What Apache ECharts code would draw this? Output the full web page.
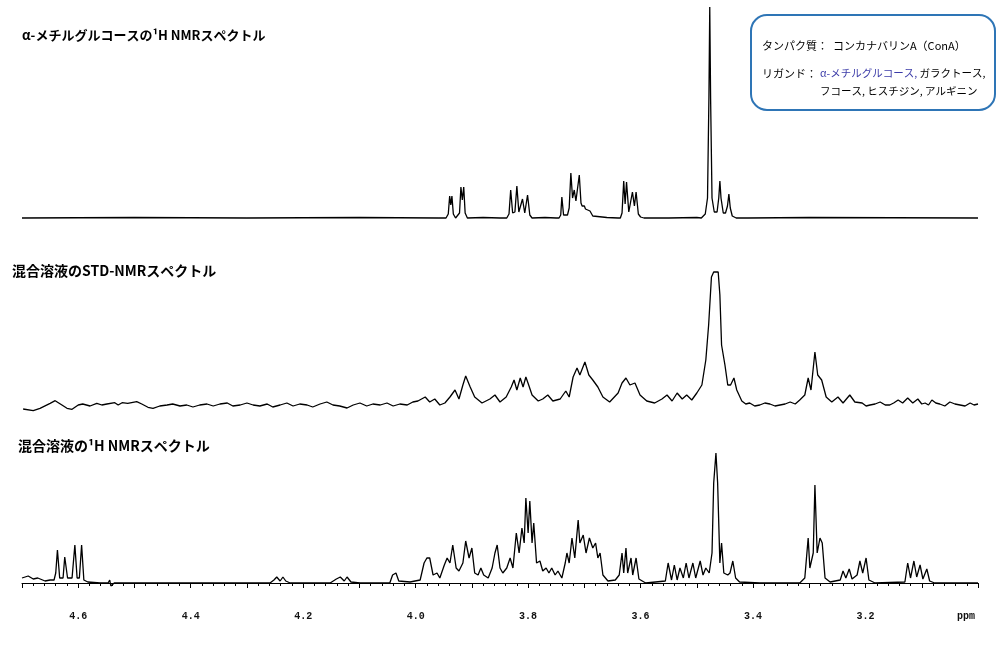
<!DOCTYPE html>
<html><head><meta charset="utf-8">
<script src="https://cdn.jsdelivr.net/npm/echarts@6/dist/echarts.min.js"></script>
<style>html,body{margin:0;padding:0;background:#fff}#c{width:1003px;height:646px}</style>
</head><body><div id="c"></div><script>
// ppm range of the shared x axis
const ppmMin = 3.0, ppmMax = 4.7;
const tickLabels = ['4.6','4.4','4.2','4.0','3.8','3.6','3.4','3.2'];
const unitLabel = 'ppm';
const spectrumTitles = ['α-メチルグルコースの¹H NMRスペクトル','混合溶液のSTD-NMRスペクトル','混合溶液の¹H NMRスペクトル'];
const proteinText = 'タンパク質：  コンカナバリンA（ConA）';
const ligandLabel = 'リガンド：';
const ligandMain = 'α-メチルグルコース,';
const ligandRest1 = ' ガラクトース,';
const ligandRest2 = 'フコース, ヒスチジン, アルギニン';

// [ppm, intensity]
const topSpectrum = [[4.70,0],[4.50,0.5],[4.30,0],[4.10,0.5],[3.96,0],
[3.946,0],[3.942,4],[3.9395,22],[3.9375,13],[3.9355,22],[3.933,4],[3.929,0],
[3.926,0],[3.922,5],[3.9195,31],[3.917,18],[3.9145,31],[3.912,5],[3.908,0],
[3.88,0.5],[3.85,0],
[3.838,0],[3.834,4],[3.831,28],[3.8275,5],[3.8235,6],[3.820,32],[3.8165,6],[3.813,6],[3.810,19],[3.806,5],[3.804,5],[3.801,23],[3.797,3],[3.793,0],
[3.77,0.5],[3.75,0],
[3.745,0],[3.742,3],[3.740,21],[3.737,3],[3.730,3],[3.727,10],[3.724,45],[3.721,20],[3.718,28],[3.715,17],[3.712,18],[3.709,43],[3.706,15],[3.704,12],[3.702,10],[3.700,12],[3.698,9],[3.696,11],[3.694,8],[3.692,10],[3.690,7],[3.688,8],[3.685,2],[3.682,0],
[3.66,0.5],[3.64,0],
[3.636,0],[3.633,5],[3.630,37],[3.6275,14],[3.625,36],[3.621,6],[3.618,6],[3.6145,26],[3.611,12],[3.608,26],[3.604,4],[3.600,1],[3.597,2],[3.594,0],
[3.55,0],[3.50,0.5],
[3.492,0],[3.485,4],[3.481,20],[3.4785,120],[3.477,211],[3.4755,120],[3.473,20],[3.469,6],[3.464,6],[3.461,20],[3.459,37],[3.457,20],[3.453,5],[3.449,5],[3.4455,12],[3.443,24],[3.4405,10],[3.437,2],[3.430,0],
[3.415,0],[3.412,2],[3.409,0],[3.30,0.5],[3.0,0]];

const stdSpectrum = [[4.698,-4],[4.680,-5.7],[4.668,-3.3],[4.650,1.7],[4.641,4.3],[4.629,0],[4.620,-3.3],[4.611,-4.3],[4.600,0],[4.592,1],[4.579,-1],[4.567,1.7],[4.558,0],[4.549,1],[4.535,2.3],[4.529,0],[4.522,2.3],[4.512,1.7],[4.496,3.3],[4.487,1],[4.476,-2.3],[4.467,-3.3],[4.455,-1],[4.442,0],
[4.432,1],[4.419,-1],[4.407,0],[4.396,-2],[4.384,0],[4.371,1],[4.360,-1],[4.348,1],[4.335,2],[4.325,-1],[4.312,0],[4.300,2],[4.289,0],[4.277,-1],[4.264,1],[4.254,-2],[4.241,0],[4.229,2],[4.218,-1],[4.206,1],[4.193,0],[4.183,-2],[4.170,1],[4.158,3],[4.147,0],[4.135,-1],[4.122,-3],[4.111,0],[4.099,2],[4.087,-1],[4.076,1],[4.063,0],[4.051,2],[4.040,-1],[4.028,1],[4.015,0],[4.005,3],
[3.996,4],[3.983,8],[3.975,3],[3.966,6],[3.957,0],[3.948,2],[3.939,8],[3.930,15],[3.923,6],[3.916,20],[3.911,29],[3.903,18],[3.895,8],[3.882,2],[3.868,6],[3.859,10],[3.850,3],[3.839,8],[3.830,18],[3.825,25],[3.820,15],[3.814,27],[3.809,18],[3.804,28],[3.799,20],[3.793,10],[3.782,4],[3.774,6],[3.765,10],[3.756,4],[3.743,6],[3.733,14],[3.727,8],[3.720,28],[3.713,37],[3.708,30],[3.699,43],[3.692,30],[3.685,25],[3.676,18],[3.667,8],[3.655,3],[3.640,12],[3.633,22],[3.626,27],[3.619,20],[3.610,22],[3.601,10],[3.589,4],[3.575,2],[3.562,6],[3.553,10],[3.544,4],[3.535,12],[3.526,6],[3.518,10],[3.509,5],[3.500,12],[3.491,20],[3.484,45],[3.479,80],[3.474,128],[3.470,133],[3.462,133],[3.459,110],[3.456,60],[3.450,40],[3.445,20],[3.440,20],[3.434,27],[3.429,15],[3.420,4],[3.413,1],[3.406,2],[3.397,-1],[3.388,0],[3.379,2],[3.370,1],[3.361,-1],[3.352,0],[3.343,1],[3.334,3],[3.325,1],[3.317,5],[3.308,10],[3.302,27],[3.297,15],[3.290,53],[3.285,30],[3.278,25],[3.270,8],[3.260,3],[3.249,8],[3.240,2],[3.228,10],[3.219,3],[3.206,2],[3.199,-1],[3.192,0],[3.183,1],[3.174,3],[3.165,0],[3.157,0],[3.150,2],[3.142,5],[3.134,2],[3.125,7],[3.116,2],[3.107,6],[3.100,1],[3.094,2],[3.088,0],[3.082,5],[3.075,2],[3.068,1],[3.059,-1],[3.050,3],[3.041,1],[3.032,0],[3.023,-1],[3.014,2],[3.007,0],[3.000,1]];

const mixSpectrum = [[4.700,5],[4.689,7],[4.680,4],[4.672,5],[4.659,2],[4.650,3],[4.643,3],[4.640,10],[4.637,33],[4.633,5],[4.627,5],[4.624,26],[4.619,5],[4.611,5],[4.606,38],[4.602,5],[4.598,5],[4.594,38],[4.590,3],[4.583,1],[4.561,0],[4.547,0],[4.544,3],[4.542,-3],[4.536,0],[4.383,0],[4.259,0],[4.252,3],[4.247,6],[4.241,2],[4.236,6],[4.231,2],[4.223,0],[4.152,0],[4.141,4],[4.134,6],[4.127,2],[4.122,6],[4.115,1],[4.099,0],[4.046,0],[4.041,8],[4.035,10],[4.030,2],[4.010,1],[3.992,3],[3.985,20],[3.980,25],[3.975,25],[3.969,8],[3.962,10],[3.957,5],[3.949,18],[3.944,25],[3.939,20],[3.934,38],[3.928,15],[3.923,12],[3.916,20],[3.911,42],[3.905,25],[3.900,35],[3.895,10],[3.889,8],[3.884,15],[3.879,8],[3.871,5],[3.864,15],[3.859,30],[3.855,38],[3.850,15],[3.845,10],[3.838,15],[3.832,25],[3.827,15],[3.821,50],[3.816,30],[3.811,55],[3.807,40],[3.804,85],[3.800,50],[3.797,82],[3.793,40],[3.790,60],[3.785,20],[3.779,22],[3.774,12],[3.768,15],[3.763,10],[3.758,15],[3.752,8],[3.747,12],[3.740,5],[3.734,20],[3.731,30],[3.727,20],[3.722,45],[3.717,25],[3.711,63],[3.708,40],[3.702,48],[3.697,30],[3.691,45],[3.685,35],[3.680,40],[3.676,25],[3.672,30],[3.667,8],[3.658,2],[3.645,3],[3.638,8],[3.633,30],[3.630,10],[3.626,35],[3.623,10],[3.617,25],[3.614,8],[3.608,25],[3.603,4],[3.591,0],[3.556,2],[3.551,20],[3.545,3],[3.540,18],[3.535,3],[3.530,15],[3.524,5],[3.519,20],[3.514,5],[3.507,20],[3.502,5],[3.494,22],[3.489,8],[3.484,15],[3.478,10],[3.473,30],[3.470,100],[3.466,130],[3.463,100],[3.459,20],[3.456,40],[3.452,10],[3.445,8],[3.441,10],[3.436,22],[3.431,5],[3.424,1],[3.388,0],[3.317,0],[3.308,5],[3.302,45],[3.299,15],[3.293,30],[3.290,98],[3.286,30],[3.281,45],[3.277,40],[3.272,5],[3.263,1],[3.245,3],[3.240,12],[3.235,5],[3.229,14],[3.224,4],[3.215,8],[3.210,22],[3.205,10],[3.199,25],[3.194,3],[3.183,0],[3.130,1],[3.125,20],[3.120,5],[3.114,22],[3.109,6],[3.103,18],[3.098,4],[3.091,14],[3.086,2],[3.077,0],[3.000,0]];

const chart = echarts.init(document.getElementById('c'), null, {renderer:'canvas'});
const xBase = {type:'value', min:ppmMin, max:ppmMax, inverse:true, interval:0.1};
const hiddenX = (i)=>Object.assign({gridIndex:i, show:false}, xBase);
const lineSeries = (i,data)=>({type:'line', xAxisIndex:i, yAxisIndex:i, data, showSymbol:false, symbol:'none',
  lineStyle:{color:'#000', width:1.3}, silent:true, clip:true});
const titleFont = 'bold 14px "Noto Sans CJK JP", sans-serif';
const topTitleFont = 'bold 13px "Noto Sans CJK JP", sans-serif';
const boxFont = '11px "Noto Sans CJK JP", sans-serif';
const ligFont = '10.5px "Noto Sans CJK JP", sans-serif';

chart.setOption({
  animation:false,
  backgroundColor:'#fff',
  grid:[
    {left:22, right:25, top:0, height:223},
    {left:22, right:25, top:265, height:150},
    {left:22, right:25, top:445, height:153}
  ],
  xAxis:[hiddenX(0), hiddenX(1), Object.assign({gridIndex:2,
    axisLine:{show:true, lineStyle:{color:'#000', width:1}},
    axisTick:{show:true, length:5, lineStyle:{color:'#000'}},
    minorTick:{show:true, splitNumber:5, length:3, lineStyle:{color:'#000'}},
    splitLine:{show:false},
    axisLabel:{margin:13, color:'#111', fontSize:10, fontWeight:'bold', fontFamily:'Liberation Mono',
      rich:{u:{fontSize:10, fontWeight:'bold', fontFamily:'Liberation Mono', color:'#111', padding:[0,24,0,0]}},
      formatter:(v)=>{ if (Math.abs(v-ppmMin)<1e-6) return '{u|'+unitLabel+'}'; const s=v.toFixed(1); return tickLabels.includes(s)?s:''; }}
  }, xBase)],
  yAxis:[
    {gridIndex:0, type:'value', min:-5, max:218, show:false},
    {gridIndex:1, type:'value', min:-10, max:140, show:false},
    {gridIndex:2, type:'value', min:-15, max:138, show:false}
  ],
  series:[lineSeries(0,topSpectrum), lineSeries(1,stdSpectrum), lineSeries(2,mixSpectrum)],
  graphic:[
    {type:'text', left:22, top:29, style:{text:spectrumTitles[0], font:topTitleFont, fill:'#000'}},
    {type:'text', left:12, top:264, style:{text:spectrumTitles[1], font:titleFont, fill:'#000'}},
    {type:'text', left:18, top:439, style:{text:spectrumTitles[2], font:titleFont, fill:'#000'}},
    {type:'rect', shape:{x:751, y:15, width:244, height:95, r:16}, style:{fill:'#fff', stroke:'#2e75b6', lineWidth:2}},
    {type:'text', x:762, y:40, style:{text:proteinText, font:boxFont, fill:'#000'}},
    {type:'text', x:762, y:68, style:{text:ligandLabel, font:boxFont, fill:'#000'}},
    {type:'text', x:820, y:68, style:{text:'{b|'+ligandMain+'}{k|'+ligandRest1+'}', font:ligFont,
      rich:{b:{fill:'#3b3ba8', font:ligFont}, k:{fill:'#000', font:ligFont}}}},
    {type:'text', x:820, y:86, style:{text:ligandRest2, font:ligFont, fill:'#000'}}
  ]
});
</script></body></html>
